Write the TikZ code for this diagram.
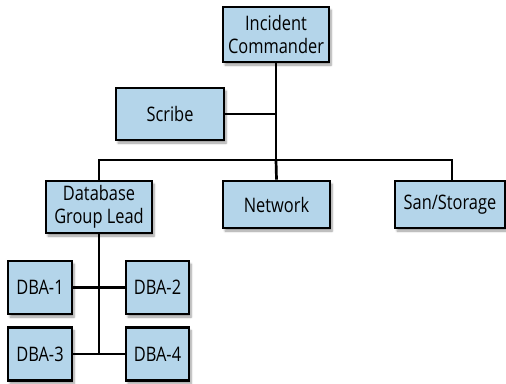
\documentclass[tikz,border=0pt]{standalone}
\usepackage{fontspec}
\setmainfont[FakeStretch=0.82]{Open Sans}
\usetikzlibrary{shadows.blur}
\definecolor{boxfill}{RGB}{180,213,234}
\tikzset{
  orgbox/.style={draw=black, line width=2.7pt, fill=boxfill, align=center,
    inner sep=0pt, font=\fontsize{20}{23}\selectfont,
    blur shadow={shadow xshift=2pt, shadow yshift=-3pt, shadow blur steps=6, shadow opacity=40}},
  link/.style={line width=2.7pt}
}
\begin{document}
\begin{tikzpicture}[x=1pt, y=-1pt]
\useasboundingbox (0,0) rectangle (506,383);
% leadership
\node[orgbox, minimum width=106pt, minimum height=55pt] (ic) at (276,34.5) {Incident\\Commander};
\node[orgbox, minimum width=108pt, minimum height=52pt] (scribe) at (170,114) {Scribe};
% teams
\node[orgbox, minimum width=106pt, minimum height=52pt] (db) at (99,207) {Database\\Group Lead};
\node[orgbox, minimum width=107pt, minimum height=47pt] (net) at (276.5,204.5) {Network};
\node[orgbox, minimum width=110pt, minimum height=47pt] (san) at (450,204.5) {San/Storage};
% DBAs
\node[orgbox, minimum width=64pt, minimum height=53pt] (dba1) at (40,287.5) {DBA-1};
\node[orgbox, minimum width=63pt, minimum height=53pt] (dba2) at (157.5,287.5) {DBA-2};
\node[orgbox, minimum width=64pt, minimum height=53pt] (dba3) at (40,354) {DBA-3};
\node[orgbox, minimum width=63pt, minimum height=53pt] (dba4) at (157.5,354) {DBA-4};
% junction points
\coordinate (hub) at (276,160);
\coordinate (scribejoin) at (276,114);
\coordinate (dbtop) at (99,160);
\coordinate (santop) at (452,160);
\coordinate (dbajoin2) at (99,354);
% connectors
\draw[link] (ic.south) -- (hub);
\draw[link] (scribe.east) -- (scribejoin);
\draw[link] (db.north) -- (dbtop) -- (santop) -- (santop |- san.north);
\draw[link] (hub) -- (net.north);
\draw[link] (db.south) -- (dbajoin2);
\draw[link] (dba1.east) -- (dba2.west);
\draw[link] (dba3.east) -- (dba4.west);
\end{tikzpicture}
\end{document}
